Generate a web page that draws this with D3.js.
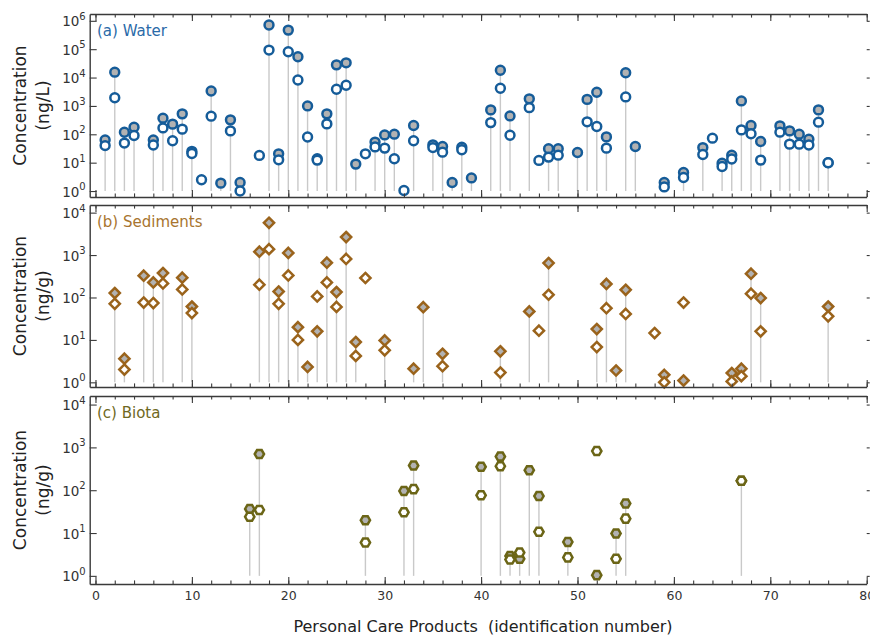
<!DOCTYPE html>
<html>
<head>
<meta charset="utf-8">
<script src="https://cdn.jsdelivr.net/npm/d3@7"></script>
<style>
  html, body { margin: 0; padding: 0; background: #fff; }
  svg { display: block; font-family: "DejaVu Sans", Verdana, sans-serif; }
</style>
</head>
<body>
<svg id="chart" width="870" height="637"></svg>
<script>
// Concentrations of personal care products by identification number.
// "filled" = grey marker (stem drawn up to it), "open" = white marker.

// (a) Water, ng/L
const waterIds    = [1, 2, 3, 4, 6, 7, 8, 9, 10, 11, 12, 13, 14, 15, 17, 18, 19, 20, 21, 22, 23, 24, 25, 26, 27, 28, 29, 30, 31, 32, 33, 35, 36, 37, 38, 39, 41, 42, 43, 45, 46, 47, 48, 50, 51, 52, 53, 55, 56, 59, 61, 63, 64, 65, 66, 67, 68, 69, 71, 72, 73, 74, 75, 76];
const waterFilled = [63, 15500, 118, 178, 63, 370, 228, 525, 25, null, 3370, 1.9, 323, 2.0, null, 710000, 20.5, 470000, 54000, 1000, 13.7, 525, 28000, 33000, 8.9, null, 53, 95, 101, null, 204, 42.5, 37, 2.0, 35, 2.9, 725, 18000, 445, 1780, null, 31, 31, 22.8, 1700, 3030, 81, 14800, 37, 2.0, 4.5, 34, null, 9.6, 18.4, 1500, 204, 56, 198, 132, 101, 67, 725, 10];
const waterOpen   = [40, 1950, 49, 91, 42, 168, 59, 152, 21, 2.5, 435, null, 132, 1.0, 18, 93000, 12.6, 81000, 8200, 80, 12.3, 233, 3870, 5340, null, 20.5, 36, 32.6, 13.7, 1.05, 59, 34, 23.5, null, 28.5, null, 258, 4200, 93, 870, 12, 15.7, 18.4, null, 275, 188, 32.5, 2080, null, 1.4, 3.0, 19.4, 73, 7.3, 13.4, 143, 104, 12.3, 119, 45, 45, 42, 268, 9.9];

// (b) Sediments, ng/g
const sedimentIds    = [2, 3, 5, 6, 7, 9, 10, 17, 18, 19, 20, 21, 22, 23, 24, 25, 26, 27, 28, 30, 33, 34, 36, 42, 45, 46, 47, 52, 53, 54, 55, 58, 59, 61, 66, 67, 68, 69, 76];
const sedimentFilled = [127, 3.6, 326, 226, 377, 293, 61, 1200, 5750, 138, 1120, 20, 2.3, 15.9, 660, 134, 2650, 8.9, null, 9.7, 2.1, 59, 4.7, 5.4, 47, null, 647, 18, 208, 1.9, 152, null, 1.5, 1.1, 1.66, 2.1, 363, 97, 61];
const sedimentOpen   = [71, 2.0, 76, 74, 214, 155, 43, 200, 1380, 71, 330, 10, null, 106, 226, 60, 810, 4.2, 288, 5.7, null, null, 2.4, 1.7, null, 16.5, 116, 6.8, 56, null, 41, 14.5, 1.0, 76, 1.05, 1.4, 123, 15.9, 36];

// (c) Biota, ng/g
const biotaIds    = [16, 17, 28, 32, 33, 40, 42, 43, 44, 45, 46, 49, 52, 54, 55, 67];
const biotaFilled = [36.5, 700, 20, 96, 377, 352, 612, 2.9, 2.5, 294, 73, 6.2, 1.04, 9.8, 49, 166];
const biotaOpen   = [24, 34.6, 6.0, 30.5, 106, 76, 364, 2.4, 3.5, null, 10.7, 2.7, 820, 2.5, 21.7, 166];

// Shared x axis
const xDomain = [-0.6, 80];
const xMajorTicks = [0, 10, 20, 30, 40, 50, 60, 70, 80];
const xMinorTicks = d3.range(0, 81, 2);
const xTitle = "Personal Care Products  (identification number)";

const svg = d3.select("#chart");
const left = 89.7, right = 866.7;
const x = d3.scaleLinear().domain(xDomain).range([left, right]);
const frameColor = "#3a3a3a";
const greyFill = "#b2b2b2";

// Flat-topped hexagon symbol
const hexagon = {
  draw(context, size) {
    const r = Math.sqrt(size / (1.5 * Math.sqrt(3)));
    for (let i = 0; i < 6; i++) {
      const a = Math.PI / 3 * i;
      const px = r * Math.cos(a), py = r * Math.sin(a);
      if (i === 0) context.moveTo(px, py); else context.lineTo(px, py);
    }
    context.closePath();
  }
};
// Square turned 45 degrees
const diamond = {
  draw(context, size) {
    const h = Math.sqrt(size / 2);
    context.moveTo(0, -h); context.lineTo(h, 0); context.lineTo(0, h); context.lineTo(-h, 0);
    context.closePath();
  }
};

const panels = [
  { label: "(a) Water", unit: "(ng/L)", ids: waterIds, filled: waterFilled, open: waterOpen,
    top: 14, bottom: 197, lo: -0.21, hi: 6.24, maxExp: 6,
    stroke: "#155c99", labelColor: "#2a6aa8", symbol: d3.symbolCircle, size: 62 },
  { label: "(b) Sediments", unit: "(ng/g)", ids: sedimentIds, filled: sedimentFilled, open: sedimentOpen,
    top: 205, bottom: 387, lo: -0.11, hi: 4.18, maxExp: 4,
    stroke: "#9a631b", labelColor: "#a8752f", symbol: diamond, size: 52 },
  { label: "(c) Biota", unit: "(ng/g)", ids: biotaIds, filled: biotaFilled, open: biotaOpen,
    top: 396, bottom: 584, lo: -0.19, hi: 4.2, maxExp: 4,
    stroke: "#6b6516", labelColor: "#6e6822", symbol: hexagon, size: 56 }
];

panels.forEach((p, pi) => {
  const y = d3.scaleLog().domain([10 ** p.lo, 10 ** p.hi]).range([p.bottom, p.top]);
  const g = svg.append("g");
  const rows = p.ids.map((id, i) => ({ id, filled: p.filled[i], open: p.open[i] }));

  // stems from 10^0 up to the grey marker
  g.append("g").selectAll("line")
    .data(rows.filter(d => d.filled != null))
    .join("line")
    .attr("x1", d => x(d.id)).attr("x2", d => x(d.id))
    .attr("y1", y(1)).attr("y2", d => y(d.filled))
    .attr("stroke", "#c9c9c9").attr("stroke-width", 1.4);

  const sym = d3.symbol().type(p.symbol).size(p.size);
  g.append("g").selectAll("path")
    .data(rows.filter(d => d.filled != null))
    .join("path")
    .attr("d", sym)
    .attr("transform", d => `translate(${x(d.id)},${y(d.filled)})`)
    .attr("fill", greyFill).attr("stroke", p.stroke).attr("stroke-width", 2.5);
  g.append("g").selectAll("path")
    .data(rows.filter(d => d.open != null))
    .join("path")
    .attr("d", sym)
    .attr("transform", d => `translate(${x(d.id)},${y(d.open)})`)
    .attr("fill", "#fff").attr("stroke", p.stroke).attr("stroke-width", 2.5);

  const styleAxis = sel => {
    sel.selectAll("line").attr("stroke", frameColor).attr("stroke-width", 1.1);
    sel.select(".domain").attr("stroke", frameColor).attr("stroke-width", 1.4);
  };

  // top and bottom x axes, ticks pointing inward
  [["top", d3.axisTop, p.top], ["bottom", d3.axisBottom, p.bottom]].forEach(([side, axisFn, yPos]) => {
    svg.append("g").attr("transform", `translate(0,${yPos})`)
      .call(axisFn(x).tickValues(xMinorTicks).tickSize(-3.6).tickSizeOuter(0).tickFormat(""))
      .call(styleAxis);
    const major = svg.append("g").attr("transform", `translate(0,${yPos})`)
      .call(axisFn(x).tickValues(xMajorTicks).tickSize(-7).tickSizeOuter(0)
        .tickPadding(7.5)
        .tickFormat(side === "bottom" && pi === 2 ? d3.format("d") : ""))
      .call(styleAxis);
    major.select(".domain").remove();
    major.selectAll("text").attr("font-size", 12.5).attr("fill", "#333")
      .attr("font-family", "DejaVu Sans, sans-serif");
  });

  // left y axis with decade ticks
  const decades = d3.range(0, p.maxExp + 1).map(e => 10 ** e);
  const ly = svg.append("g").attr("transform", `translate(${left},0)`)
    .call(d3.axisLeft(y).tickValues(decades).tickSize(-7).tickSizeOuter(0).tickFormat(""))
    .call(styleAxis);
  ly.selectAll(".tick").append("text")
    .attr("x", -4).attr("y", 5).attr("text-anchor", "end").attr("fill", "#333")
    .attr("font-family", "DejaVu Sans, sans-serif")
    .each(function (d) {
      const t = d3.select(this);
      t.append("tspan").attr("font-size", 13.5).text("10");
      t.append("tspan").attr("font-size", 10).attr("dy", -6.5).text(Math.round(Math.log10(d)));
    });

  // small decade ticks along the right edge
  svg.append("g").attr("transform", `translate(${right},0)`)
    .call(d3.axisRight(y).tickValues(decades).tickSize(3).tickSizeOuter(0).tickFormat(""))
    .call(s => s.select(".domain").remove())
    .call(s => s.selectAll("line").attr("stroke", frameColor).attr("stroke-width", 1.1));

  // panel label
  svg.append("text").attr("x", 97).attr("y", p.top + 21.5)
    .attr("font-size", 15).attr("fill", p.labelColor).text(p.label);

  // y title
  const cy = (p.top + p.bottom) / 2;
  svg.append("text").attr("transform", `translate(26,${cy}) rotate(-90)`)
    .attr("text-anchor", "middle").attr("font-size", 17).attr("fill", "#222").text("Concentration");
  svg.append("text").attr("transform", `translate(49,${cy}) rotate(-90)`)
    .attr("text-anchor", "middle").attr("font-size", 17).attr("fill", "#222").text(p.unit);
});

// x title
svg.append("text").attr("x", 483).attr("y", 632)
  .attr("text-anchor", "middle").attr("font-size", 16).attr("fill", "#222")
  .style("white-space", "pre").text(xTitle);
</script>
</body>
</html>
